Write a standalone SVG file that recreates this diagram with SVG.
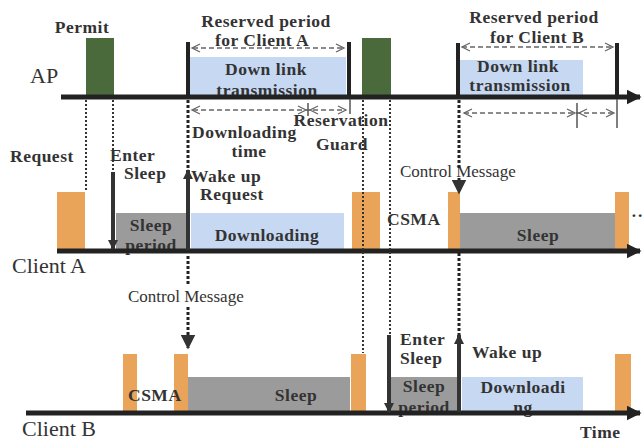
<svg xmlns="http://www.w3.org/2000/svg" width="643" height="441" viewBox="0 0 643 441">
<defs>
<style>
.b{font-family:"Liberation Serif",serif;font-weight:bold;font-size:17.5px;fill:#333;letter-spacing:0.5px}
.r{font-family:"Liberation Serif",serif;font-size:17px;fill:#333}
.lane{font-family:"Liberation Serif",serif;font-size:22px;fill:#333}
.axis{stroke:#222;stroke-width:5;fill:none}
.green{fill:#4b6a3b}
.orange{fill:#e9a45a}
.blue{fill:#c6d8f2}
.gray{fill:#9b9b9b}
.bar{stroke:#222;stroke-width:4;fill:none}
.dot{stroke:#333;stroke-width:2;stroke-dasharray:2 2;fill:none}
.hdot{stroke:#222;stroke-width:3;stroke-dasharray:3 2;fill:none}
.dash{stroke:#666;stroke-width:1.3;stroke-dasharray:5 3;fill:none}
.chev{stroke:#666;stroke-width:1.3;fill:none}
.tick{stroke:#555;stroke-width:1.5;fill:none}
.arr{stroke:#333;stroke-width:4;fill:none}
</style>
<marker id="ah" viewBox="0 0 10 10" refX="9" refY="5" markerWidth="3" markerHeight="3" orient="auto"><path d="M0,0L10,5L0,10z" fill="#222"/></marker>
<marker id="ah2" viewBox="0 0 10 10" refX="9" refY="5" markerWidth="2.6" markerHeight="2.6" orient="auto"><path d="M0,0L10,5L0,10z" fill="#333"/></marker>
<marker id="ah3" viewBox="0 0 10 10" refX="9" refY="5" markerWidth="5" markerHeight="5" orient="auto"><path d="M0,0L10,5L0,10z" fill="#333"/></marker>
</defs>
<rect width="643" height="441" fill="#fff"/>

<g id="ap">
<text class="lane" x="30" y="83">AP</text>
<g id="permit"><rect class="green" x="86" y="38" width="28" height="58"/><text class="b" x="82" y="33" text-anchor="middle">Permit</text></g>
<g id="reserved-a">
<rect class="blue" x="190" y="57" width="156" height="39"/>
<text class="b" x="266" y="75" text-anchor="middle">Down link</text>
<text class="b" x="267" y="96" text-anchor="middle">transmission</text>
<text class="b" x="266" y="27" text-anchor="middle">Reserved period</text>
<text class="b" x="262" y="46" text-anchor="middle">for Client A</text>
<line class="bar" x1="188" y1="42" x2="188" y2="96"/>
<line class="bar" x1="349" y1="42" x2="349" y2="96"/>
<line class="dash" x1="193" y1="48" x2="344" y2="48"/>
<path class="chev" d="M200,44L192,48L200,52M336,44L344,48L336,52"/>
</g>
<g id="green2"><rect class="green" x="362" y="38" width="29" height="58"/></g>
<g id="reserved-b">
<rect class="blue" x="459" y="60" width="124" height="36"/>
<text class="b" x="518" y="72" text-anchor="middle">Down link</text>
<text class="b" x="520" y="91" text-anchor="middle">transmission</text>
<text class="b" x="534" y="23" text-anchor="middle">Reserved period</text>
<text class="b" x="537" y="43" text-anchor="middle">for Client B</text>
<line class="bar" x1="458" y1="43" x2="458" y2="96"/>
<line class="bar" x1="617" y1="43" x2="617" y2="96"/>
<line class="dash" x1="462" y1="47" x2="613" y2="47"/>
<path class="chev" d="M470,43L462,47L470,51M605,43L613,47L605,51"/>
</g>
<line class="axis" x1="61" y1="97" x2="640" y2="97" marker-end="url(#ah)"/>
</g>

<g id="timing-a">
<line class="dash" x1="193" y1="110" x2="346" y2="110"/>
<path class="chev" d="M200,106L192,110L200,114M298,106L306,110L298,114M318,106L310,110L318,114M338,106L346,110L338,114"/>
<line class="tick" x1="308" y1="103" x2="308" y2="116"/>
<line class="tick" x1="350" y1="99" x2="350" y2="114"/>
<text class="b" x="192" y="138">Downloading</text>
<text class="b" x="249" y="157" text-anchor="middle">time</text>
<text class="b" x="341" y="126" text-anchor="middle">Reservation</text>
<text class="b" x="342" y="150" text-anchor="middle">Guard</text>
</g>
<g id="timing-b">
<line class="dash" x1="464" y1="113" x2="614" y2="113"/>
<path class="chev" d="M472,109L464,113L472,117M567,109L575,113L567,117M587,109L579,113L587,117M606,109L614,113L606,117"/>
<line class="tick" x1="577" y1="103" x2="577" y2="128"/>
<line class="tick" x1="617" y1="99" x2="617" y2="128"/>
</g>

<g id="client-a">
<text class="lane" x="12" y="273">Client A</text>
<g id="a-request"><rect class="orange" x="57" y="192" width="28" height="58"/><text class="b" x="10" y="162">Request</text></g>
<g id="a-sleep-period"><rect class="gray" x="116" y="213" width="70" height="37"/>
<text class="b" x="151" y="231" text-anchor="middle">Sleep</text>
<text class="b" x="151" y="251" text-anchor="middle">period</text></g>
<text class="b" x="110" y="161">Enter</text>
<text class="b" x="124" y="179">Sleep</text>
<g id="a-downloading"><rect class="blue" x="191" y="213" width="153" height="37"/>
<text class="b" x="267" y="241" text-anchor="middle">Downloading</text></g>
<text class="b" x="191" y="182">Wake up</text>
<text class="b" x="232" y="200" text-anchor="middle">Request</text>
<g id="a-csma"><rect class="orange" x="352" y="192" width="28" height="58"/>
<text class="b" x="387" y="225">CSMA</text></g>
<text class="r" x="400" y="177">Control Message</text>
<g id="a-sleep"><rect class="orange" x="448" y="192" width="12" height="58"/>
<rect class="gray" x="460" y="213" width="155" height="37"/>
<text class="b" x="538" y="241" text-anchor="middle">Sleep</text>
<rect class="orange" x="615" y="192" width="14" height="58"/>
<text class="b" x="631" y="221">··</text></g>
<line class="axis" x1="57" y1="251" x2="640" y2="251" marker-end="url(#ah)"/>
</g>

<g id="client-b">
<text class="lane" x="22" y="436">Client B</text>
<text class="b" x="580" y="438">Time</text>
<g id="b-csma"><rect class="orange" x="123" y="354" width="14" height="58"/>
<rect class="orange" x="174" y="354" width="14" height="58"/>
<text class="b" x="128" y="401">CSMA</text></g>
<text class="r" x="128" y="302">Control Message</text>
<g id="b-sleep"><rect class="gray" x="188" y="377" width="162" height="35"/>
<text class="b" x="296" y="401" text-anchor="middle">Sleep</text>
<rect class="orange" x="351" y="354" width="15" height="58"/></g>
<g id="b-sleep-period"><rect class="gray" x="391" y="377" width="67" height="35"/>
<text class="b" x="424" y="392" text-anchor="middle">Sleep</text>
<text class="b" x="424" y="413" text-anchor="middle">period</text></g>
<text class="b" x="400" y="345">Enter</text>
<text class="b" x="400" y="364">Sleep</text>
<g id="b-downloading"><rect class="blue" x="462" y="377" width="121" height="35"/>
<text class="b" x="523" y="393" text-anchor="middle">Downloadi</text>
<text class="b" x="523" y="413" text-anchor="middle">ng</text></g>
<text class="b" x="472" y="358">Wake up</text>
<rect class="orange" x="615" y="354" width="16" height="58"/>
<line class="axis" x1="26" y1="413" x2="640" y2="413" marker-end="url(#ah)"/>
</g>

<g id="connectors">
<line class="dot" x1="86" y1="100" x2="86" y2="192"/>
<line class="dot" x1="113" y1="100" x2="113" y2="172"/>
<line class="hdot" x1="188" y1="100" x2="188" y2="170"/>
<line class="hdot" x1="188" y1="256" x2="188" y2="284"/>
<line class="hdot" x1="188" y1="307" x2="188" y2="348" marker-end="url(#ah3)"/>
<line class="dot" x1="363" y1="100" x2="363" y2="353"/>
<line class="dot" x1="390" y1="100" x2="390" y2="335"/>
<line class="hdot" x1="459" y1="100" x2="459" y2="170"/>
<line class="hdot" x1="459" y1="178" x2="459" y2="193" marker-end="url(#ah3)"/>
<line class="hdot" x1="459" y1="253" x2="459" y2="336"/>
<line class="arr" x1="113" y1="172" x2="113" y2="249" marker-end="url(#ah2)"/>
<line class="arr" x1="188" y1="250" x2="188" y2="170" marker-end="url(#ah2)"/>
<line class="arr" x1="389" y1="335" x2="389" y2="412" marker-end="url(#ah2)"/>
<line class="arr" x1="459" y1="412" x2="459" y2="335" marker-end="url(#ah2)"/>
</g>
</svg>
